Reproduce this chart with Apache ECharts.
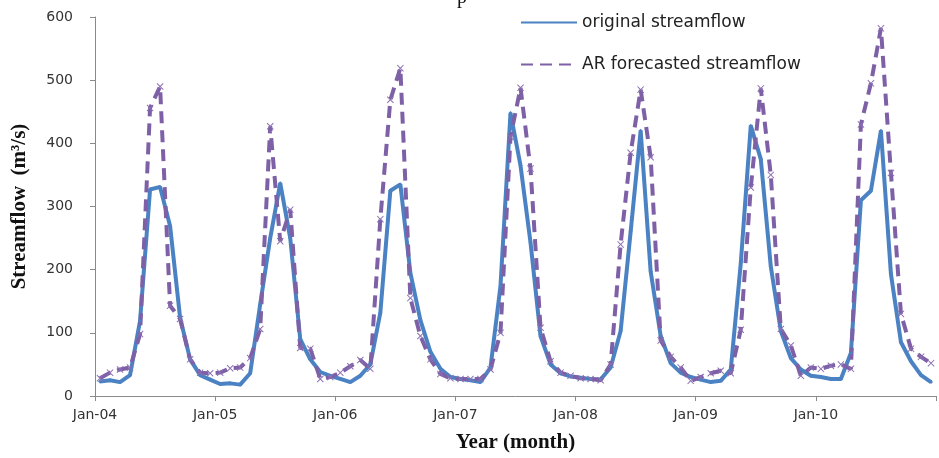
<!DOCTYPE html>
<html>
<head>
<meta charset="utf-8">
<script src="https://cdn.jsdelivr.net/npm/echarts@6/dist/echarts.min.js"></script>
<style>
html, body { margin: 0; background: #fff; }
#container { width: 939px; height: 458px; }
</style>
</head>
<body>
<div id="container"></div>
<script>
// monthly values, Jan-04 .. Dec-10 (one row per year)
var tickLabels = ['Jan-04', 'Jan-05', 'Jan-06', 'Jan-07', 'Jan-08', 'Jan-09', 'Jan-10'];

var original = [
    23, 25, 22, 33, 119, 327, 331, 269, 124, 58, 33, 26,
    19, 20, 18, 36, 145, 250, 337, 250, 90, 58, 38, 32,
    27, 22, 32, 50, 132, 325, 335, 195, 120, 70, 43, 30,
    27, 25, 22, 45, 174, 448, 365, 243, 95, 50, 36, 31,
    29, 27, 26, 45, 103, 260, 420, 197, 95, 52, 37, 30,
    26, 22, 24, 42, 210, 428, 375, 205, 103, 60, 42, 32,
    30, 27, 27, 68, 310, 325, 420, 193, 85, 55, 33, 22
];

var forecast = [
    28, 37, 42, 45, 98, 456, 490, 143, 122, 58, 37, 36,
    37, 44, 45, 60, 106, 427, 245, 295, 76, 75, 27, 30,
    37, 47, 57, 43, 280, 469, 519, 155, 95, 58, 35, 28,
    27, 27, 27, 42, 100, 410, 488, 360, 108, 55, 37, 32,
    28, 27, 25, 50, 240, 385, 485, 378, 88, 62, 45, 24,
    30, 36, 40, 36, 105, 330, 487, 350, 106, 80, 32, 45,
    43, 48, 50, 43, 430, 495, 582, 353, 130, 75, 62, 52
];

var dom = document.getElementById('container');
var myChart = echarts.init(dom);

// points sit in the middle of each month
function toPoints(values) {
    return values.map(function (v, i) { return [i + 0.5, v]; });
}

var cross = 'path://M0,1L1,0L5,4L9,0L10,1L6,5L10,9L9,10L5,6L1,10L0,9L4,5Z';
var axisGrey = '#8a8a8a';

var option = {
    animation: false,
    backgroundColor: '#fff',
    graphic: [{
        type: 'text',
        left: 457,
        top: -12,
        style: { text: 'p', font: '20px "Liberation Serif"', fill: '#111' }
    }],
    legend: {
        orient: 'vertical',
        left: 515,
        top: 9,
        itemWidth: 56,
        itemHeight: 12,
        itemGap: 25,
        itemStyle: { opacity: 0 },
        textStyle: { fontFamily: 'DejaVu Sans', fontSize: 17, color: '#222' },
        data: ['original streamflow', 'AR forecasted streamflow']
    },
    grid: { left: 95, right: 2, top: 17, bottom: 61 },
    xAxis: {
        type: 'value',
        min: 0,
        max: 84,
        interval: 12,
        name: 'Year (month)',
        nameLocation: 'middle',
        nameGap: 36,
        nameTextStyle: { fontFamily: 'Liberation Serif', fontWeight: 'bold', fontSize: 21, color: '#111' },
        axisLine: { lineStyle: { color: axisGrey } },
        axisTick: { length: 5, lineStyle: { color: axisGrey } },
        splitLine: { show: false },
        axisLabel: {
            margin: 12,
            fontFamily: 'DejaVu Sans',
            fontSize: 14,
            color: '#333',
            formatter: function (v) { return tickLabels[v / 12] || ''; }
        }
    },
    yAxis: {
        type: 'value',
        min: 0,
        max: 600,
        interval: 100,
        name: 'Streamflow  (m³/s)',
        nameLocation: 'middle',
        nameGap: 65,
        nameTextStyle: { fontFamily: 'Liberation Serif', fontWeight: 'bold', fontSize: 21, color: '#111' },
        axisLine: { show: true, lineStyle: { color: axisGrey } },
        axisTick: { show: true, length: 5, lineStyle: { color: axisGrey } },
        splitLine: { show: false },
        axisLabel: { margin: 22, fontFamily: 'DejaVu Sans', fontSize: 14, color: '#333' }
    },
    series: [{
        name: 'original streamflow',
        type: 'line',
        data: toPoints(original),
        symbol: 'diamond',
        symbolSize: 4,
        itemStyle: { color: '#4a82c3' },
        lineStyle: { color: '#4a82c3', width: 4 }
    }, {
        name: 'AR forecasted streamflow',
        type: 'line',
        data: toPoints(forecast),
        symbol: cross,
        symbolSize: 7,
        itemStyle: { color: '#8c6fb3' },
        lineStyle: { color: '#7e60a6', width: 4, type: [12, 7] }
    }]
};

myChart.setOption(option);

window.onresize = function () {
    myChart.resize();
};
</script>
</body>
</html>
